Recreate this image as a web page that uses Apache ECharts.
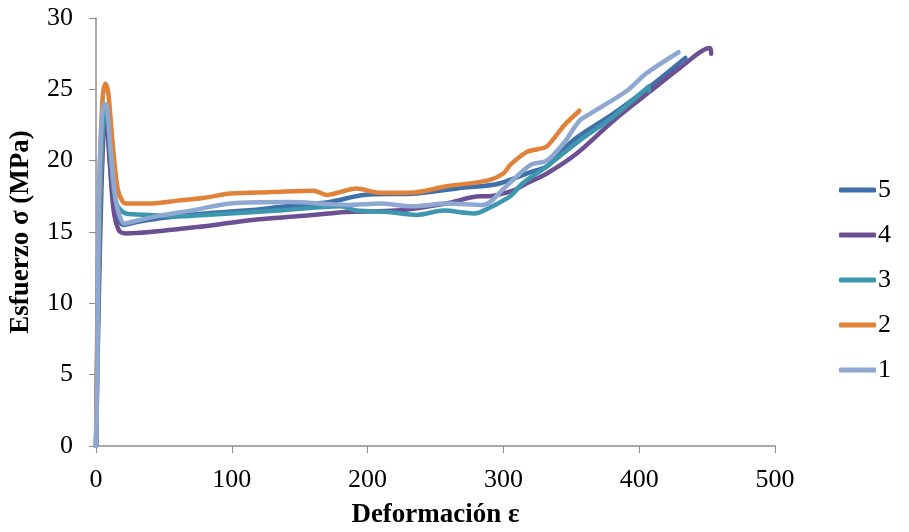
<!DOCTYPE html>
<html>
<head>
<meta charset="utf-8">
<script src="https://cdn.jsdelivr.net/npm/echarts@6/dist/echarts.min.js"></script>
<style>
  html, body { margin: 0; padding: 0; background: #fff; }
  #chart { width: 909px; height: 532px; }
</style>
</head>
<body>
<div id="chart"></div>
<script>
var names = ['5', '4', '3', '2', '1'];
var colors = ['#4070AA', '#6B5193', '#3D98AF', '#E0823A', '#8EA8D1'];

// [deformacion, esfuerzo]
var s5 = [[0,0],[2,14],[4,21],[6,23.2],[8,22.8],[11,19],[15,16.3],[20,15.5],[30,15.7],[50,16],[80,16.3],[110,16.5],[140,16.8],[172,17.1],[197,17.6],[236,17.7],[270,18.1],[283,18.2],[297,18.4],[320,19.2],[332,19.6],[351,21.4],[381,23.3],[408,25.2],[434,27.2]];
var s4 = [[0,0],[2,10],[4,18],[6,22.5],[7.5,22.7],[10,20],[13,16.5],[17,15.1],[22,14.9],[40,15.0],[60,15.2],[80,15.4],[99,15.65],[120,15.9],[148,16.1],[185,16.4],[221,16.5],[258,17.0],[283,17.5],[288,17.5],[307,17.9],[317,18.4],[332,19.1],[354,20.5],[381,22.8],[410,25.0],[430,26.5],[452,27.9],[453,27.5]];
var s3 = [[0,0],[2,12],[4,20],[6,23.3],[8,23.5],[11,20],[15,17],[22,16.3],[40,16.2],[60,16.1],[80,16.2],[99,16.3],[135,16.5],[180,16.8],[192,16.5],[215,16.4],[236,16.2],[256,16.5],[278,16.3],[283,16.4],[292,16.8],[305,17.5],[314,18.4],[332,19.6],[356,21.4],[381,23.1],[407,25.2],[407,24.9]];
var s2 = [[0,0],[1.5,13],[3,20],[5,24.5],[7,25.4],[9,24.8],[12,21.5],[16,18],[20,17.1],[24,17.0],[40,17.0],[60,17.2],[80,17.4],[99,17.7],[130,17.8],[160,17.9],[170,17.6],[192,18.05],[209,17.75],[231,17.75],[258,18.2],[288,18.6],[300,19.1],[305,19.7],[317,20.6],[325,20.8],[332,21.0],[345,22.5],[356,23.5]];
var s1 = [[0,0],[1,5],[2,17],[4,22.5],[6,24],[8,23.8],[11,20.5],[15,17],[21,15.6],[30,15.8],[50,16.2],[70,16.5],[99,17.0],[143,17.1],[185,16.9],[209,17.0],[233,16.8],[258,17.0],[285,16.9],[302,18.2],[320,19.7],[332,20.0],[345,21.3],[356,22.8],[364,23.3],[391,24.9],[405,26.1],[429,27.6]];
var allData = [s5, s4, s3, s2, s1];

var chart = echarts.init(document.getElementById('chart'));
var font = 'Liberation Serif';

var series = allData.map(function (d, i) {
  return {
    name: names[i],
    type: 'line',
    data: d,
    symbol: 'none',
    smooth: 0.3,
    lineStyle: { width: 4.5, color: colors[i], cap: 'round', join: 'round' },
    itemStyle: { color: colors[i] }
  };
});

var option = {
  animation: false,
  backgroundColor: '#fff',
  grid: { left: 96, right: 134, top: 18, bottom: 86, containLabel: false, outerBoundsMode: 'none' },
  legend: {
    orient: 'vertical',
    left: 834,
    top: 172,
    data: names,
    icon: 'roundRect',
    itemWidth: 37,
    itemHeight: 5,
    itemGap: 19,
    textStyle: { fontFamily: font, fontSize: 26, color: '#000', padding: [0, 0, 0, -3] }
  },
  xAxis: {
    type: 'value',
    min: 0, max: 500, interval: 100,
    name: 'Deformación ε',
    nameLocation: 'middle',
    nameGap: 56,
    nameTextStyle: { fontFamily: font, fontSize: 27, fontWeight: 'bold', color: '#000' },
    axisLine: { show: true, lineStyle: { color: '#8c8c8c', width: 1.5 } },
    axisTick: { show: true, length: 7, lineStyle: { color: '#8c8c8c' } },
    axisLabel: { fontFamily: font, fontSize: 26, color: '#000', margin: 21 },
    splitLine: { show: false }
  },
  yAxis: {
    type: 'value',
    min: 0, max: 30, interval: 5,
    name: 'Esfuerzo σ (MPa)',
    nameLocation: 'middle',
    nameGap: 61,
    nameTextStyle: { fontFamily: font, fontSize: 27, fontWeight: 'bold', color: '#000' },
    axisLine: { show: true, lineStyle: { color: '#8c8c8c', width: 1.5 } },
    axisTick: { show: true, length: 7, lineStyle: { color: '#8c8c8c' } },
    axisLabel: { fontFamily: font, fontSize: 26, color: '#000', margin: 23 },
    splitLine: { show: false }
  },
  series: series
};
chart.setOption(option);
</script>
</body>
</html>
